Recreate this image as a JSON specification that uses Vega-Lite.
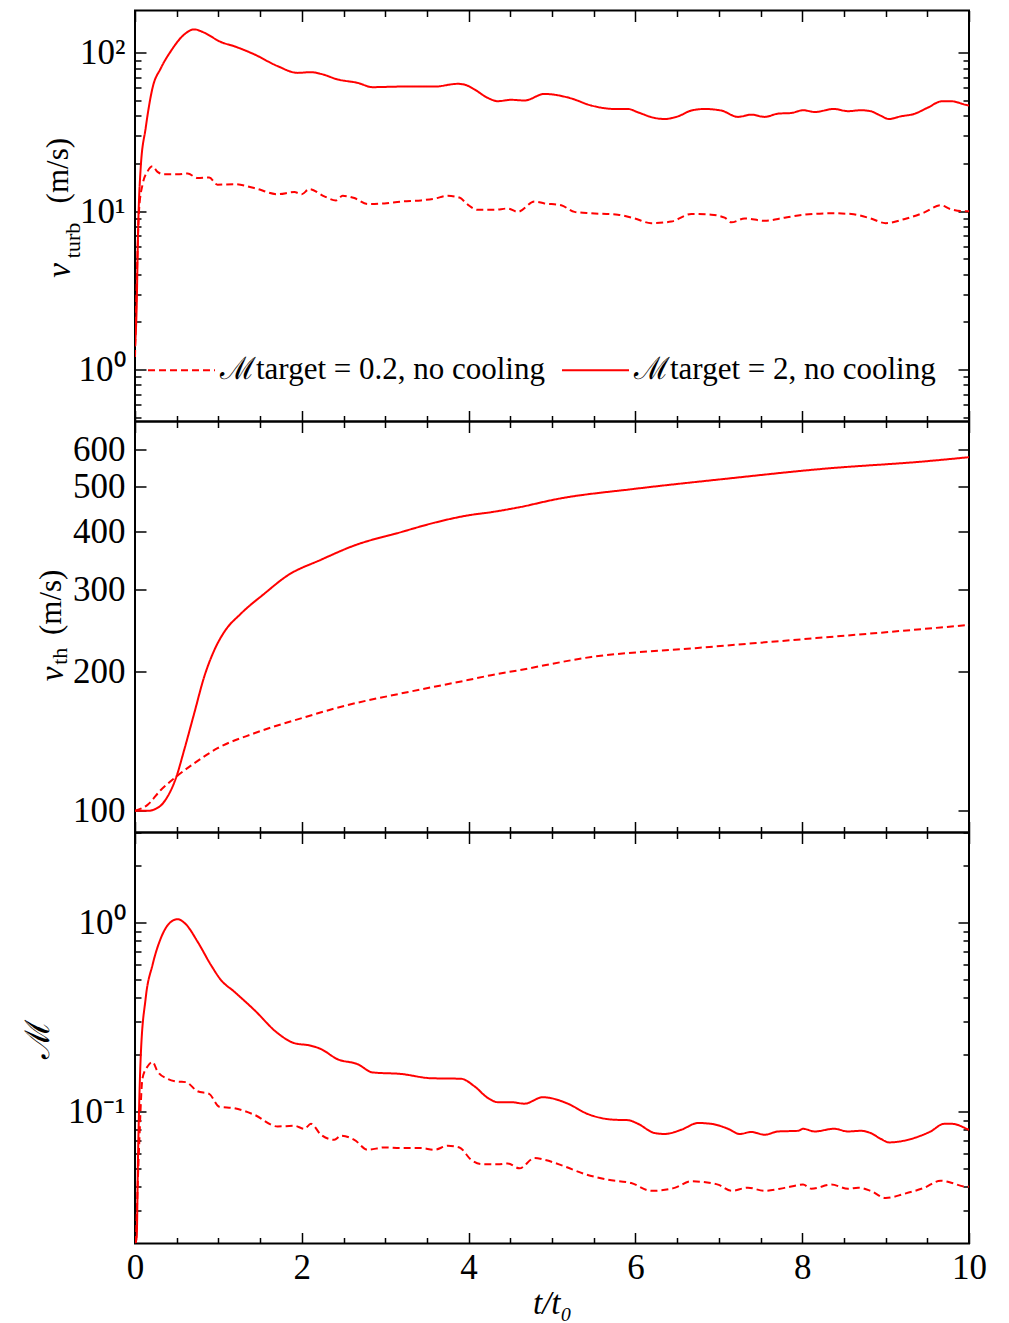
{
  "$schema": "https://vega.github.io/schema/vega-lite/v6.json",
  "padding": {"left": 20, "top": 8.5, "right": 5, "bottom": 5},
  "spacing": 0,
  "bounds": "flush",
  "config": {
    "view": {"stroke": "black", "strokeWidth": 2},
    "line": {"interpolate": "monotone"},
    "axis": {"grid": false, "domain": false, "tickColor": "black", "tickWidth": 1.5, "labelFont": "Liberation Serif", "labelFontSize": 35, "labelColor": "black", "titleFont": "Liberation Serif", "titleColor": "black", "titleFontWeight": "normal", "labelOverlap": false, "labelFlush": false, "labelBound": false}
  },
  "datasets": {
    "p1": [
      {"t":0,"v":1.4,"s":"s"},{"t":0.02,"v":2.5,"s":"s"},{"t":0.036,"v":7.1,"s":"s"},{"t":0.068,"v":18.7,"s":"s"},{"t":0.128,"v":33.5,"s":"s"},{"t":0.21,"v":60,"s":"s"},{"t":0.31,"v":80,"s":"s"},{"t":0.43,"v":102.5,"s":"s"},{"t":0.57,"v":127.6,"s":"s"},{"t":0.71,"v":140.6,"s":"s"},{"t":0.83,"v":134,"s":"s"},{"t":1.03,"v":117,"s":"s"},{"t":1.19,"v":110,"s":"s"},{"t":1.43,"v":97.8,"s":"s"},{"t":1.71,"v":82.4,"s":"s"},{"t":1.95,"v":74.7,"s":"s"},{"t":2.11,"v":75.5,"s":"s"},{"t":2.23,"v":73.6,"s":"s"},{"t":2.43,"v":67.9,"s":"s"},{"t":2.67,"v":64.6,"s":"s"},{"t":2.85,"v":60.7,"s":"s"},{"t":3.19,"v":61.2,"s":"s"},{"t":3.59,"v":61.2,"s":"s"},{"t":3.87,"v":63.7,"s":"s"},{"t":3.95,"v":63,"s":"s"},{"t":4.07,"v":58.7,"s":"s"},{"t":4.23,"v":51.9,"s":"s"},{"t":4.35,"v":49.5,"s":"s"},{"t":4.51,"v":50.5,"s":"s"},{"t":4.67,"v":50,"s":"s"},{"t":4.91,"v":55,"s":"s"},{"t":5.21,"v":51.9,"s":"s"},{"t":5.47,"v":46.5,"s":"s"},{"t":5.75,"v":44.2,"s":"s"},{"t":5.91,"v":44.2,"s":"s"},{"t":6.03,"v":42.1,"s":"s"},{"t":6.23,"v":38.8,"s":"s"},{"t":6.35,"v":38.2,"s":"s"},{"t":6.51,"v":39.7,"s":"s"},{"t":6.67,"v":43.2,"s":"s"},{"t":6.83,"v":44.2,"s":"s"},{"t":7.03,"v":43.2,"s":"s"},{"t":7.23,"v":39.4,"s":"s"},{"t":7.39,"v":40.7,"s":"s"},{"t":7.55,"v":39.4,"s":"s"},{"t":7.71,"v":41.3,"s":"s"},{"t":7.87,"v":41.7,"s":"s"},{"t":8.01,"v":43.4,"s":"s"},{"t":8.15,"v":42.3,"s":"s"},{"t":8.38,"v":44.2,"s":"s"},{"t":8.55,"v":42.8,"s":"s"},{"t":8.7,"v":43.4,"s":"s"},{"t":8.82,"v":42.8,"s":"s"},{"t":8.94,"v":40.1,"s":"s"},{"t":9.04,"v":38.2,"s":"s"},{"t":9.18,"v":39.7,"s":"s"},{"t":9.34,"v":41.1,"s":"s"},{"t":9.5,"v":44.9,"s":"s"},{"t":9.68,"v":49.5,"s":"s"},{"t":9.78,"v":49.5,"s":"s"},{"t":9.98,"v":46.7,"s":"s"},{"t":10,"v":46.5,"s":"s"},
      {"t":0,"v":1.2,"s":"d"},{"t":0.03,"v":5.5,"s":"d"},{"t":0.05,"v":10.4,"s":"d"},{"t":0.09,"v":14.7,"s":"d"},{"t":0.15,"v":17.8,"s":"d"},{"t":0.21,"v":19.2,"s":"d"},{"t":0.27,"v":17.7,"s":"d"},{"t":0.35,"v":17.1,"s":"d"},{"t":0.51,"v":17.1,"s":"d"},{"t":0.63,"v":17.3,"s":"d"},{"t":0.75,"v":16.2,"s":"d"},{"t":0.89,"v":16.3,"s":"d"},{"t":0.99,"v":14.7,"s":"d"},{"t":1.19,"v":14.8,"s":"d"},{"t":1.43,"v":14.0,"s":"d"},{"t":1.71,"v":12.8,"s":"d"},{"t":1.91,"v":13.2,"s":"d"},{"t":2.0,"v":12.8,"s":"d"},{"t":2.09,"v":13.8,"s":"d"},{"t":2.27,"v":12.4,"s":"d"},{"t":2.41,"v":11.7,"s":"d"},{"t":2.49,"v":12.5,"s":"d"},{"t":2.63,"v":12.1,"s":"d"},{"t":2.79,"v":11.1,"s":"d"},{"t":2.99,"v":11.2,"s":"d"},{"t":3.19,"v":11.5,"s":"d"},{"t":3.43,"v":11.7,"s":"d"},{"t":3.59,"v":12.0,"s":"d"},{"t":3.75,"v":12.5,"s":"d"},{"t":3.89,"v":12.2,"s":"d"},{"t":3.99,"v":11.0,"s":"d"},{"t":4.11,"v":10.2,"s":"d"},{"t":4.31,"v":10.2,"s":"d"},{"t":4.47,"v":10.4,"s":"d"},{"t":4.59,"v":9.9,"s":"d"},{"t":4.79,"v":11.5,"s":"d"},{"t":4.91,"v":11.2,"s":"d"},{"t":5.11,"v":10.9,"s":"d"},{"t":5.27,"v":9.9,"s":"d"},{"t":5.47,"v":9.7,"s":"d"},{"t":5.79,"v":9.5,"s":"d"},{"t":5.99,"v":9.0,"s":"d"},{"t":6.19,"v":8.4,"s":"d"},{"t":6.43,"v":8.6,"s":"d"},{"t":6.67,"v":9.6,"s":"d"},{"t":6.91,"v":9.5,"s":"d"},{"t":7.07,"v":9.1,"s":"d"},{"t":7.15,"v":8.5,"s":"d"},{"t":7.31,"v":9.0,"s":"d"},{"t":7.55,"v":8.7,"s":"d"},{"t":7.79,"v":9.1,"s":"d"},{"t":8.02,"v":9.5,"s":"d"},{"t":8.35,"v":9.7,"s":"d"},{"t":8.59,"v":9.6,"s":"d"},{"t":8.82,"v":9.0,"s":"d"},{"t":9.0,"v":8.4,"s":"d"},{"t":9.22,"v":8.9,"s":"d"},{"t":9.46,"v":9.8,"s":"d"},{"t":9.66,"v":10.9,"s":"d"},{"t":9.78,"v":10.3,"s":"d"},{"t":9.94,"v":10.0,"s":"d"},{"t":10,"v":10.0,"s":"d"}
    ],
    "p2": [
      {"t":0,"v":100,"s":"s"},{"t":0.15,"v":100,"s":"s"},{"t":0.29,"v":102,"s":"s"},{"t":0.39,"v":107.3,"s":"s"},{"t":0.49,"v":117.5,"s":"s"},{"t":0.59,"v":135.3,"s":"s"},{"t":0.71,"v":162.2,"s":"s"},{"t":0.83,"v":194.5,"s":"s"},{"t":0.95,"v":221.7,"s":"s"},{"t":1.07,"v":242.9,"s":"s"},{"t":1.27,"v":266,"s":"s"},{"t":1.55,"v":293.6,"s":"s"},{"t":1.83,"v":321.5,"s":"s"},{"t":2.23,"v":347.5,"s":"s"},{"t":2.63,"v":373,"s":"s"},{"t":3.19,"v":398.6,"s":"s"},{"t":3.59,"v":417.6,"s":"s"},{"t":3.99,"v":433,"s":"s"},{"t":4.27,"v":440,"s":"s"},{"t":4.61,"v":451,"s":"s"},{"t":5.07,"v":470,"s":"s"},{"t":5.99,"v":494,"s":"s"},{"t":7.07,"v":519,"s":"s"},{"t":8.27,"v":546,"s":"s"},{"t":9.46,"v":566,"s":"s"},{"t":10,"v":578,"s":"s"},
      {"t":0,"v":100,"s":"d"},{"t":0.15,"v":103,"s":"d"},{"t":0.31,"v":110.9,"s":"d"},{"t":0.47,"v":117.5,"s":"d"},{"t":0.71,"v":126.6,"s":"d"},{"t":0.99,"v":136.4,"s":"d"},{"t":1.43,"v":146.9,"s":"d"},{"t":1.99,"v":158.2,"s":"d"},{"t":2.55,"v":169,"s":"d"},{"t":3.19,"v":179,"s":"d"},{"t":3.99,"v":191.3,"s":"d"},{"t":4.27,"v":196,"s":"d"},{"t":4.61,"v":201,"s":"d"},{"t":5.47,"v":214.5,"s":"d"},{"t":6.67,"v":223.8,"s":"d"},{"t":7.87,"v":233.2,"s":"d"},{"t":9.06,"v":243,"s":"d"},{"t":10,"v":251.5,"s":"d"}
    ],
    "p3": [
      {"t":0,"v":0.0201,"s":"s"},{"t":0.02,"v":0.0214,"s":"s"},{"t":0.036,"v":0.0567,"s":"s"},{"t":0.068,"v":0.192,"s":"s"},{"t":0.128,"v":0.398,"s":"s"},{"t":0.21,"v":0.597,"s":"s"},{"t":0.31,"v":0.827,"s":"s"},{"t":0.41,"v":0.99,"s":"s"},{"t":0.51,"v":1.042,"s":"s"},{"t":0.61,"v":0.98,"s":"s"},{"t":0.75,"v":0.793,"s":"s"},{"t":0.91,"v":0.597,"s":"s"},{"t":1.03,"v":0.497,"s":"s"},{"t":1.19,"v":0.431,"s":"s"},{"t":1.43,"v":0.345,"s":"s"},{"t":1.71,"v":0.26,"s":"s"},{"t":1.91,"v":0.23,"s":"s"},{"t":2.11,"v":0.223,"s":"s"},{"t":2.23,"v":0.214,"s":"s"},{"t":2.43,"v":0.189,"s":"s"},{"t":2.67,"v":0.178,"s":"s"},{"t":2.85,"v":0.161,"s":"s"},{"t":3.19,"v":0.158,"s":"s"},{"t":3.55,"v":0.15,"s":"s"},{"t":3.91,"v":0.149,"s":"s"},{"t":4.07,"v":0.136,"s":"s"},{"t":4.23,"v":0.118,"s":"s"},{"t":4.35,"v":0.112,"s":"s"},{"t":4.51,"v":0.112,"s":"s"},{"t":4.67,"v":0.11,"s":"s"},{"t":4.89,"v":0.119,"s":"s"},{"t":5.19,"v":0.11,"s":"s"},{"t":5.43,"v":0.0969,"s":"s"},{"t":5.75,"v":0.0904,"s":"s"},{"t":5.91,"v":0.09,"s":"s"},{"t":6.03,"v":0.0861,"s":"s"},{"t":6.23,"v":0.0769,"s":"s"},{"t":6.35,"v":0.076,"s":"s"},{"t":6.55,"v":0.08,"s":"s"},{"t":6.75,"v":0.0869,"s":"s"},{"t":6.91,"v":0.086,"s":"s"},{"t":7.11,"v":0.081,"s":"s"},{"t":7.25,"v":0.076,"s":"s"},{"t":7.39,"v":0.0779,"s":"s"},{"t":7.55,"v":0.0753,"s":"s"},{"t":7.71,"v":0.0784,"s":"s"},{"t":7.95,"v":0.079,"s":"s"},{"t":8.01,"v":0.081,"s":"s"},{"t":8.15,"v":0.0784,"s":"s"},{"t":8.38,"v":0.081,"s":"s"},{"t":8.55,"v":0.0784,"s":"s"},{"t":8.7,"v":0.079,"s":"s"},{"t":8.82,"v":0.0769,"s":"s"},{"t":8.94,"v":0.0717,"s":"s"},{"t":9.04,"v":0.0686,"s":"s"},{"t":9.22,"v":0.07,"s":"s"},{"t":9.42,"v":0.0744,"s":"s"},{"t":9.54,"v":0.0784,"s":"s"},{"t":9.7,"v":0.086,"s":"s"},{"t":9.8,"v":0.086,"s":"s"},{"t":9.98,"v":0.0807,"s":"s"},{"t":10,"v":0.08,"s":"s"},
      {"t":0.01,"v":0.0201,"s":"d"},{"t":0.05,"v":0.0667,"s":"d"},{"t":0.09,"v":0.15,"s":"d"},{"t":0.15,"v":0.173,"s":"d"},{"t":0.21,"v":0.183,"s":"d"},{"t":0.27,"v":0.163,"s":"d"},{"t":0.39,"v":0.149,"s":"d"},{"t":0.51,"v":0.144,"s":"d"},{"t":0.61,"v":0.143,"s":"d"},{"t":0.75,"v":0.128,"s":"d"},{"t":0.89,"v":0.124,"s":"d"},{"t":1.01,"v":0.106,"s":"d"},{"t":1.19,"v":0.104,"s":"d"},{"t":1.43,"v":0.0961,"s":"d"},{"t":1.71,"v":0.0833,"s":"d"},{"t":1.91,"v":0.084,"s":"d"},{"t":2.03,"v":0.081,"s":"d"},{"t":2.11,"v":0.086,"s":"d"},{"t":2.23,"v":0.0753,"s":"d"},{"t":2.39,"v":0.0708,"s":"d"},{"t":2.47,"v":0.0744,"s":"d"},{"t":2.63,"v":0.0708,"s":"d"},{"t":2.79,"v":0.0627,"s":"d"},{"t":2.99,"v":0.0645,"s":"d"},{"t":3.19,"v":0.064,"s":"d"},{"t":3.43,"v":0.064,"s":"d"},{"t":3.59,"v":0.0627,"s":"d"},{"t":3.75,"v":0.0659,"s":"d"},{"t":3.89,"v":0.0645,"s":"d"},{"t":4.03,"v":0.0555,"s":"d"},{"t":4.15,"v":0.0527,"s":"d"},{"t":4.35,"v":0.0525,"s":"d"},{"t":4.47,"v":0.053,"s":"d"},{"t":4.61,"v":0.05,"s":"d"},{"t":4.79,"v":0.0567,"s":"d"},{"t":4.91,"v":0.0555,"s":"d"},{"t":5.15,"v":0.0512,"s":"d"},{"t":5.39,"v":0.0467,"s":"d"},{"t":5.67,"v":0.0435,"s":"d"},{"t":5.95,"v":0.0418,"s":"d"},{"t":6.19,"v":0.038,"s":"d"},{"t":6.47,"v":0.0394,"s":"d"},{"t":6.67,"v":0.0427,"s":"d"},{"t":6.99,"v":0.041,"s":"d"},{"t":7.15,"v":0.038,"s":"d"},{"t":7.35,"v":0.0395,"s":"d"},{"t":7.55,"v":0.038,"s":"d"},{"t":7.79,"v":0.0394,"s":"d"},{"t":8.01,"v":0.041,"s":"d"},{"t":8.11,"v":0.039,"s":"d"},{"t":8.35,"v":0.041,"s":"d"},{"t":8.55,"v":0.039,"s":"d"},{"t":8.67,"v":0.0395,"s":"d"},{"t":8.82,"v":0.038,"s":"d"},{"t":9.0,"v":0.0348,"s":"d"},{"t":9.22,"v":0.0366,"s":"d"},{"t":9.46,"v":0.0394,"s":"d"},{"t":9.66,"v":0.043,"s":"d"},{"t":9.8,"v":0.0418,"s":"d"},{"t":9.94,"v":0.0401,"s":"d"},{"t":10,"v":0.04,"s":"d"}
    ]
  },
  "vconcat": [
    {
      "width": 834, "height": 411,
      "data": {"name": "p1"},
      "layer": [
        {
          "mark": {"type": "line", "color": "red", "strokeWidth": 2, "clip": true},
          "encoding": {
            "x": {"field": "t", "type": "quantitative", "scale": {"domain": [0, 10], "nice": false, "zero": false},
              "axis": {"orient": "bottom", "values": [0,0.5,1,1.5,2,2.5,3,3.5,4,4.5,5,5.5,6,6.5,7,7.5,8,8.5,9,9.5,10], "labels": false, "title": null, "tickSize": {"condition": {"test": "datum.value % 2 === 0", "value": -11}, "value": -6}}},
            "y": {"field": "v", "type": "quantitative", "scale": {"type": "log", "domain": [0.47, 185], "nice": false},
              "axis": {"orient": "left", "values": [0.5,0.6,0.7,0.8,0.9,1,2,3,4,5,6,7,8,9,10,20,30,40,50,60,70,80,90,100],
                "tickSize": {"condition": {"test": "datum.value === 1 || datum.value === 10 || datum.value === 100", "value": -11}, "value": -6},
                "labelExpr": "datum.value === 1 ? '10⁰' : datum.value === 10 ? '10¹' : datum.value === 100 ? '10²' : ''",
                "labelPadding": 21,
                "title": "v", "titleFontStyle": "italic", "titleFontSize": 33, "titleAngle": -90, "titleX": -66, "titleY": 259.5, "titleAlign": "center", "titleBaseline": "alphabetic"}},
            "strokeDash": {"field": "s", "type": "nominal", "scale": {"domain": ["d", "s"], "range": [[7, 4], [1, 0]]},
              "legend": {"orient": "none", "legendX": 12, "legendY": 325, "direction": "horizontal", "title": null, "symbolType": "stroke", "symbolSize": 4489, "symbolStrokeWidth": 2, "symbolStrokeColor": "red", "labelFont": "Liberation Serif", "labelFontSize": 31, "labelColor": "black", "labelOffset": 4, "columnPadding": 13, "labelLimit": 0,
                "labelExpr": "datum.value === 'd' ? 'ℳtarget = 0.2, no cooling' : 'ℳtarget = 2, no cooling'"}}
          }
        },
        {
          "mark": {"type": "line", "opacity": 0},
          "encoding": {
            "x": {"field": "t", "type": "quantitative", "scale": {"domain": [0, 10], "nice": false, "zero": false},
              "axis": {"orient": "top", "values": [0,0.5,1,1.5,2,2.5,3,3.5,4,4.5,5,5.5,6,6.5,7,7.5,8,8.5,9,9.5,10], "labels": false, "title": null, "tickSize": {"condition": {"test": "datum.value % 2 === 0", "value": -11}, "value": -6}}},
            "y": {"field": "v", "type": "quantitative", "scale": {"type": "log", "domain": [0.47, 185], "nice": false},
              "axis": {"orient": "right", "values": [0.5,0.6,0.7,0.8,0.9,1,2,3,4,5,6,7,8,9,10,20,30,40,50,60,70,80,90,100],
                "tickSize": {"condition": {"test": "datum.value === 1 || datum.value === 10 || datum.value === 100", "value": -11}, "value": -6},
                "labels": false,
                "title": "turb", "titleFontSize": 22, "titleAngle": -90, "titleX": -890, "titleY": 229.5, "titleAlign": "center", "titleBaseline": "alphabetic"}},
            "detail": {"field": "s"}
          }
        },
        {
          "mark": {"type": "line", "opacity": 0},
          "encoding": {
            "x": {"field": "t", "type": "quantitative", "scale": {"domain": [0, 10], "nice": false, "zero": false}, "axis": null},
            "y": {"field": "v", "type": "quantitative", "scale": {"type": "log", "domain": [0.47, 185], "nice": false},
              "axis": {"orient": "left", "ticks": false, "labels": false, "title": "(m/s)", "titleFontSize": 31, "titleAngle": -90, "titleX": -68, "titleY": 159.7, "titleAlign": "center", "titleBaseline": "alphabetic"}},
            "detail": {"field": "s"}
          }
        }
      ],
      "resolve": {"scale": {"x": "independent", "y": "independent"}}
    },
    {
      "width": 834, "height": 411,
      "data": {"name": "p2"},
      "layer": [
        {
          "mark": {"type": "line", "color": "red", "strokeWidth": 2, "clip": true},
          "encoding": {
            "x": {"field": "t", "type": "quantitative", "scale": {"domain": [0, 10], "nice": false, "zero": false},
              "axis": {"orient": "bottom", "values": [0,0.5,1,1.5,2,2.5,3,3.5,4,4.5,5,5.5,6,6.5,7,7.5,8,8.5,9,9.5,10], "labels": false, "title": null, "tickSize": {"condition": {"test": "datum.value % 2 === 0", "value": -11}, "value": -6}}},
            "y": {"field": "v", "type": "quantitative", "scale": {"type": "log", "domain": [89.8, 690], "nice": false},
              "axis": {"orient": "left", "values": [100,200,300,400,500,600], "tickSize": -11, "format": "d", "labelPadding": 21,
                "title": "v", "titleFontStyle": "italic", "titleFontSize": 33, "titleAngle": -90, "titleX": -73, "titleY": 251.8, "titleAlign": "center", "titleBaseline": "alphabetic"}},
            "strokeDash": {"field": "s", "type": "nominal", "scale": {"domain": ["d", "s"], "range": [[7, 4], [1, 0]]}, "legend": null}
          }
        },
        {
          "mark": {"type": "line", "opacity": 0},
          "encoding": {
            "x": {"field": "t", "type": "quantitative", "scale": {"domain": [0, 10], "nice": false, "zero": false},
              "axis": {"orient": "top", "values": [0,0.5,1,1.5,2,2.5,3,3.5,4,4.5,5,5.5,6,6.5,7,7.5,8,8.5,9,9.5,10], "labels": false, "title": null, "tickSize": {"condition": {"test": "datum.value % 2 === 0", "value": -11}, "value": -6}}},
            "y": {"field": "v", "type": "quantitative", "scale": {"type": "log", "domain": [89.8, 690], "nice": false},
              "axis": {"orient": "right", "values": [100,200,300,400,500,600], "tickSize": -11, "labels": false,
                "title": "th", "titleFontSize": 22, "titleAngle": -90, "titleX": -903, "titleY": 234.3, "titleAlign": "center", "titleBaseline": "alphabetic"}},
            "detail": {"field": "s"}
          }
        },
        {
          "mark": {"type": "line", "opacity": 0},
          "encoding": {
            "x": {"field": "t", "type": "quantitative", "scale": {"domain": [0, 10], "nice": false, "zero": false}, "axis": null},
            "y": {"field": "v", "type": "quantitative", "scale": {"type": "log", "domain": [89.8, 690], "nice": false},
              "axis": {"orient": "left", "ticks": false, "labels": false, "title": "(m/s)", "titleFontSize": 31, "titleAngle": -90, "titleX": -75, "titleY": 180.3, "titleAlign": "center", "titleBaseline": "alphabetic"}},
            "detail": {"field": "s"}
          }
        }
      ],
      "resolve": {"scale": {"x": "independent", "y": "independent"}}
    },
    {
      "width": 834, "height": 411,
      "data": {"name": "p3"},
      "layer": [
        {
          "mark": {"type": "line", "color": "red", "strokeWidth": 2, "clip": true},
          "encoding": {
            "x": {"field": "t", "type": "quantitative", "scale": {"domain": [0, 10], "nice": false, "zero": false},
              "axis": {"orient": "bottom", "values": [0,0.5,1,1.5,2,2.5,3,3.5,4,4.5,5,5.5,6,6.5,7,7.5,8,8.5,9,9.5,10],
                "tickSize": {"condition": {"test": "datum.value % 2 === 0", "value": -11}, "value": -6},
                "labelExpr": "datum.value % 2 === 0 ? format(datum.value, 'd') : ''", "labelPadding": 18,
                "title": "t/t₀", "titleFontStyle": "italic", "titleFontSize": 33, "titleY": 70, "titleBaseline": "alphabetic"}},
            "y": {"field": "v", "type": "quantitative", "scale": {"type": "log", "domain": [0.02, 3], "nice": false},
              "axis": {"orient": "left", "values": [0.03,0.04,0.05,0.06,0.07,0.08,0.09,0.1,0.2,0.3,0.4,0.5,0.6,0.7,0.8,0.9,1,2,3],
                "tickSize": {"condition": {"test": "datum.value === 0.1 || datum.value === 1", "value": -11}, "value": -6},
                "labelExpr": "datum.value === 0.1 ? '10⁻¹' : datum.value === 1 ? '10⁰' : ''",
                "labelPadding": 21,
                "title": "ℳ", "titleFont": "DejaVu Serif", "titleFontSize": 34, "titleAngle": -90, "titleX": -87, "titleY": 206, "titleAlign": "center", "titleBaseline": "alphabetic"}},
            "strokeDash": {"field": "s", "type": "nominal", "scale": {"domain": ["d", "s"], "range": [[7, 4], [1, 0]]}, "legend": null}
          }
        },
        {
          "mark": {"type": "line", "opacity": 0},
          "encoding": {
            "x": {"field": "t", "type": "quantitative", "scale": {"domain": [0, 10], "nice": false, "zero": false},
              "axis": {"orient": "top", "values": [0,0.5,1,1.5,2,2.5,3,3.5,4,4.5,5,5.5,6,6.5,7,7.5,8,8.5,9,9.5,10], "labels": false, "title": null, "tickSize": {"condition": {"test": "datum.value % 2 === 0", "value": -11}, "value": -6}}},
            "y": {"field": "v", "type": "quantitative", "scale": {"type": "log", "domain": [0.02, 3], "nice": false},
              "axis": {"orient": "right", "values": [0.03,0.04,0.05,0.06,0.07,0.08,0.09,0.1,0.2,0.3,0.4,0.5,0.6,0.7,0.8,0.9,1,2,3],
                "tickSize": {"condition": {"test": "datum.value === 0.1 || datum.value === 1", "value": -11}, "value": -6},
                "labels": false, "title": null}},
            "detail": {"field": "s"}
          }
        }
      ],
      "resolve": {"scale": {"x": "independent", "y": "independent"}}
    }
  ]
}
